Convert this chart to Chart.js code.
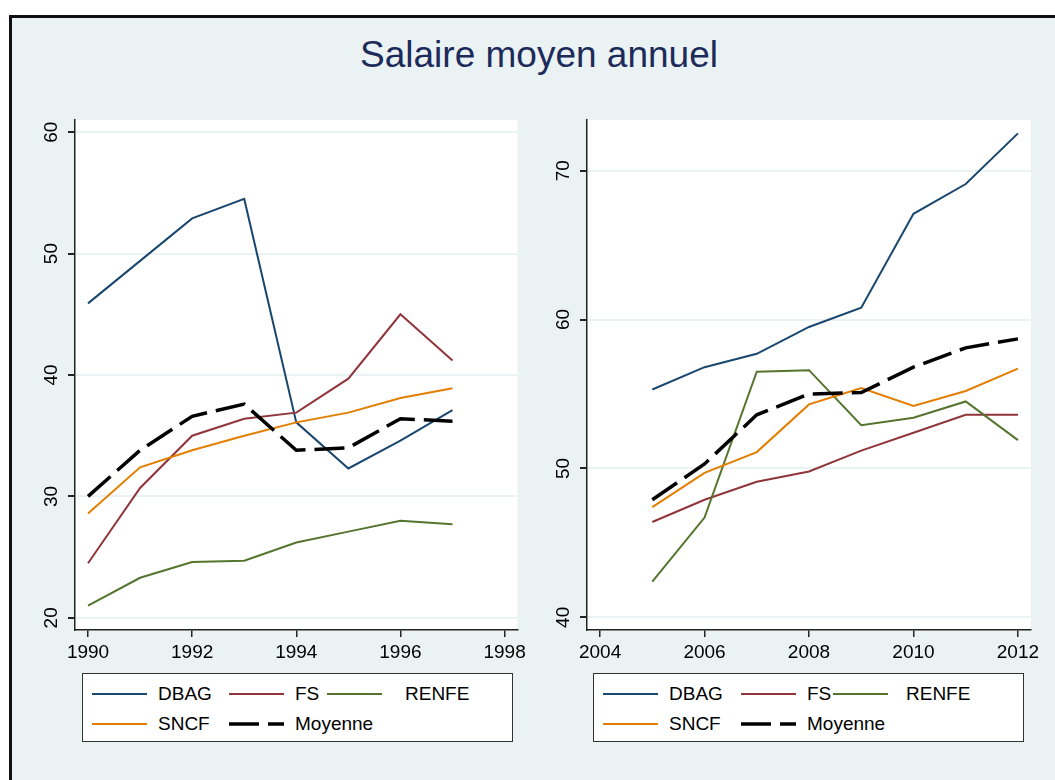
<!DOCTYPE html>
<html>
<head>
<meta charset="utf-8">
<title>Salaire moyen annuel</title>
<script src="https://cdn.jsdelivr.net/npm/chart.js/dist/chart.umd.min.js"></script>
<style>
  html, body { margin: 0; padding: 0; overflow: hidden; background: #fff; }
  body { width: 1055px; height: 780px; position: relative; font-family: "Liberation Sans", Arial, sans-serif; }
  #frame { position: absolute; left: 9px; top: 15px; width: 1070px; height: 790px;
           border: 3px solid #111; background: #eaf2f3; box-sizing: border-box; }
  #title { position: absolute; left: 0; width: 1078px; top: 36px; text-align: center;
           font-size: 37px; line-height: 37px; color: #1c2b5a; }
  .panel { position: absolute; }
  .legend { position: absolute; top: 673px; height: 69px; background: #fff;
            border: 1px solid #333; box-sizing: border-box; font-size: 19px; color: #000; }
  .legend svg, .legend span { position: absolute; }
  .legend span { line-height: 20px; white-space: nowrap; }
</style>
</head>
<body>
<div id="frame"></div>
<div id="title">Salaire moyen annuel</div>
<div class="panel" style="left:0px; top:100px;"><canvas id="left" width="530" height="570"></canvas></div>
<div class="panel" style="left:530px; top:100px;"><canvas id="right" width="515" height="570"></canvas></div>
<div class="legend" id="legLeft" style="left:82px; width:431px;"></div>
<div class="legend" id="legRight" style="left:593px; width:431px;"></div>
<script>
// series names and colours
const names = ["DBAG", "FS", "RENFE", "SNCF", "Moyenne"];
const colors = ["#1a476f", "#90353b", "#55752f", "#e37e00", "#000000"];

// 1990-1997
const yearsA = [1990, 1991, 1992, 1993, 1994, 1995, 1996, 1997];
const dbagA  = [45.9, 49.4, 52.9, 54.5, 36.1, 32.3, 34.6, 37.1];
const fsA    = [24.5, 30.7, 35.0, 36.4, 36.9, 39.7, 45.0, 41.2];
const renfeA = [21.0, 23.3, 24.6, 24.7, 26.2, 27.1, 28.0, 27.7];
const sncfA  = [28.6, 32.4, 33.8, 35.0, 36.1, 36.9, 38.1, 38.9];
const moyA   = [30.0, 33.8, 36.6, 37.6, 33.8, 34.0, 36.4, 36.2];

// 2005-2012
const yearsB = [2005, 2006, 2007, 2008, 2009, 2010, 2011, 2012];
const dbagB  = [55.3, 56.8, 57.7, 59.5, 60.8, 67.1, 69.1, 72.5];
const fsB    = [46.4, 47.9, 49.1, 49.8, 51.2, 52.4, 53.6, 53.6];
const renfeB = [42.4, 46.7, 56.5, 56.6, 52.9, 53.4, 54.5, 51.9];
const sncfB  = [47.4, 49.7, 51.1, 54.3, 55.4, 54.2, 55.2, 56.7];
const moyB   = [47.9, 50.3, 53.6, 55.0, 55.1, 56.8, 58.1, 58.7];

// tick labels
const xTicksA = [1990, 1992, 1994, 1996, 1998];
const yTicksA = [20, 30, 40, 50, 60];
const xTicksB = [2004, 2006, 2008, 2010, 2012];
const yTicksB = [40, 50, 60, 70];

const plotBg = {
  id: 'plotBg',
  beforeDraw(c) {
    const a = c.chartArea, ctx = c.ctx;
    ctx.save();
    ctx.fillStyle = '#fff';
    ctx.fillRect(a.left, a.top, a.right - a.left, a.bottom - a.top);
    ctx.restore();
  }
};

function makeDatasets(years, series) {
  return series.map((vals, i) => ({
    label: names[i],
    data: years.map((y, j) => ({x: y, y: vals[j]})),
    borderColor: colors[i],
    backgroundColor: colors[i],
    borderWidth: i == 4 ? 3.5 : 2,
    borderDash: i == 4 ? [30, 9] : [],
    pointRadius: 0,
    tension: 0,
    order: 4 - i
  }));
}

const tickFont = {family: "Liberation Sans", size: 19};

function makeChart(id, years, series, xr, yr, xt, yt, yWidth, padRight) {
  return new Chart(document.getElementById(id), {
    type: 'line',
    data: {datasets: makeDatasets(years, series)},
    plugins: [plotBg],
    options: {
      responsive: false,
      animation: false,
      layout: {padding: {top: 20, right: padRight, left: 0, bottom: 0}},
      plugins: {legend: {display: false}, tooltip: {enabled: false}},
      scales: {
        x: {
          type: 'linear', min: xr[0], max: xr[1],
          afterBuildTicks: s => { s.ticks = xt.map(v => ({value: v})); },
          afterFit: s => { s.height = 40; },
          grid: {drawOnChartArea: false, tickColor: '#222', tickLength: 7, lineWidth: 1.5},
          border: {display: true, color: '#222', width: 1.5},
          ticks: {color: '#000', font: tickFont, padding: 4, maxRotation: 0, autoSkip: false,
                  callback: v => String(v)}
        },
        y: {
          min: yr[0], max: yr[1],
          afterBuildTicks: s => { s.ticks = yt.map(v => ({value: v})); },
          afterFit: s => { s.width = yWidth; },
          grid: {color: '#eaf2f3', lineWidth: 2, tickColor: '#222', tickLength: 7},
          border: {display: true, color: '#222', width: 1.5},
          ticks: {color: '#000', font: tickFont, padding: 6, minRotation: 90, maxRotation: 90,
                  crossAlign: 'center', autoSkip: false, callback: v => String(v)}
        }
      }
    }
  });
}

const chartA = makeChart('left', yearsA, [dbagA, fsA, renfeA, sncfA, moyA],
  [1989.75, 1998.25], [19, 61], xTicksA, yTicksA, 75, 10);
const chartB = makeChart('right', yearsB, [dbagB, fsB, renfeB, sncfB, moyB],
  [2003.75, 2012.25], [39.15, 73.4], xTicksB, yTicksB, 57, 14);

// legend built from the chart datasets, 3 columns x 2 rows
function buildLegend(chart, el, sampleX, labelX) {
  const rowY = [19.5, 49.7];
  chart.data.datasets.forEach((ds, i) => {
    const r = Math.floor(i / 3), c = i % 3;
    const svg = document.createElementNS('http://www.w3.org/2000/svg', 'svg');
    svg.setAttribute('width', 56);
    svg.setAttribute('height', 8);
    svg.style.left = sampleX[c] + 'px';
    svg.style.top = (rowY[r] - 4) + 'px';
    const ln = document.createElementNS('http://www.w3.org/2000/svg', 'line');
    ln.setAttribute('x1', 0); ln.setAttribute('x2', 55);
    ln.setAttribute('y1', 4); ln.setAttribute('y2', 4);
    ln.setAttribute('stroke', ds.borderColor);
    ln.setAttribute('stroke-width', ds.borderWidth);
    if (ds.borderDash.length) ln.setAttribute('stroke-dasharray', ds.borderDash.join(' '));
    svg.appendChild(ln);
    el.appendChild(svg);
    const sp = document.createElement('span');
    sp.textContent = ds.label;
    sp.style.left = labelX[c] + 'px';
    sp.style.top = (rowY[r] - 10) + 'px';
    el.appendChild(sp);
  });
}
buildLegend(chartA, document.getElementById('legLeft'), [9, 146, 244], [75, 212, 322]);
buildLegend(chartB, document.getElementById('legRight'), [9, 147, 239], [75, 213, 312]);
</script>
</body>
</html>
